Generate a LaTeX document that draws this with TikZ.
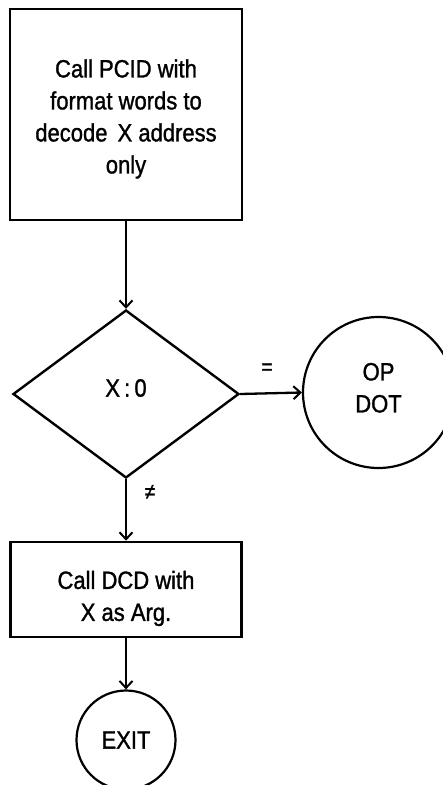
\documentclass[tikz,border=0pt]{standalone}
\usepackage{fontspec}
\setmainfont[FakeStretch=0.88,FakeBold=1.2]{Liberation Sans}
\usetikzlibrary{shapes.geometric,arrows.meta}
% centred lines with a fixed 32pt pitch, shifted without changing the box size
\newcommand{\flowtext}[2][0pt]{\raisebox{#1}[\height][\depth]{\begin{tabular}{@{}c@{}}#2\end{tabular}}}
\begin{document}
\begin{tikzpicture}[x=1pt,y=-1pt,
  every node/.style={font=\fontsize{25}{32}\selectfont, align=center, inner sep=0pt},
  box/.style={draw, line width=2.6pt, rectangle},
  test/.style={draw, line width=2.4pt, diamond},
  term/.style={draw, line width=2.2pt, circle},
  flow/.style={line width=2.3pt, -{Straight Barb[length=7pt,width=13pt,line width=2pt]}},
  condlabel/.style={font=\fontsize{22}{22}\selectfont}]
\useasboundingbox (0,0) rectangle (443,785);

\node[box, minimum width=232pt, minimum height=211pt] (pcid) at (126,114.5)
  {\flowtext[-4.5pt]{Call PCID with\\format words to\\decode\hspace{4pt} X address\\only}};
\node[test, minimum width=226pt, minimum height=168pt] (xz) at (126,394)
  {\raisebox{6pt}[\height][\depth]{X\,:\,0}};
\node[term, minimum size=151pt] (opdot) at (378.5,392.5) {\flowtext[2.5pt]{OP\\DOT}};
\node[box, minimum width=231pt, minimum height=95pt] (dcd) at (126,589.5)
  {\flowtext[-9pt]{Call DCD with\\X as Arg.}};
\node[term, minimum size=99pt] (exit) at (126,740) {EXIT};

\draw[flow] (pcid.south) -- (xz.north);
\draw[flow] (xz.east) -- (opdot.west);
\draw[flow] (xz.south) -- (dcd.north);
\draw[flow] (dcd.south) -- (exit.north);

\node[condlabel] (eq) at (267,369) {=};
\node[condlabel] (ne) at (150,492) {≠};
\end{tikzpicture}
\end{document}
